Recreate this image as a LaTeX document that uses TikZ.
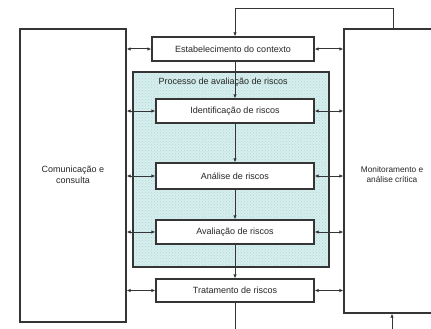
\documentclass[tikz,border=0pt]{standalone}
\usepackage{fontspec}
\setmainfont{Liberation Sans}
\usetikzlibrary{arrows.meta,patterns}
\definecolor{linegray}{HTML}{353535}
\definecolor{shade}{HTML}{D6EEEE}
\definecolor{hatch}{HTML}{B4D8D8}
\begin{document}
\begin{tikzpicture}[x=1pt,y=-1pt,
  every node/.style={font=\fontsize{9}{11}\selectfont, text=black!85},
  stagebox/.style={draw=linegray, line width=1.3pt, fill=white, minimum height=24pt, inner sep=0pt},
  sidebox/.style={draw=linegray, line width=1.3pt, fill=white, inner sep=0pt},
  flow/.style={draw=linegray, line width=1pt, -{Latex[length=4pt,width=3.5pt]}},
  link/.style={draw=linegray, line width=1pt, {Latex[length=4pt,width=3.5pt]}-{Latex[length=4pt,width=3.5pt]}}]
  \useasboundingbox (0,0) rectangle (431,329);
  \clip (0,0) rectangle (431,329);
  \fill[white] (0,0) rectangle (431,329);

  % side boxes
  \node[sidebox, minimum width=106pt, minimum height=293pt] (com) at (73,175.5) {};
  \node[align=center] (comlbl) at (73,175) {Comunicação e\\consulta};
  \node[sidebox, minimum width=96pt, minimum height=284pt] (mon) at (392,171) {};
  \node[align=center, font=\fontsize{8.3}{10}\selectfont] (monlbl) at (392,175) {Monitoramento e\\análise crítica};

  % shaded process area: base tint, dotted hatch, then solid border
  \node[draw=linegray, line width=1.3pt, preaction={fill=shade},
        pattern=crosshatch dots, pattern color=hatch,
        minimum width=196pt, minimum height=195pt, inner sep=0pt] (proc) at (231,169.5) {};

  % stages
  \node[stagebox, minimum width=162pt] (estab) at (233,49) {Estabelecimento do contexto};
  \node[stagebox, minimum width=158pt] (ident) at (235,111) {Identificação de riscos};
  \node[stagebox, minimum width=158pt, minimum height=26pt] (anal) at (235,176) {Análise de riscos};
  \node[stagebox, minimum width=158pt] (aval) at (235,232) {Avaliação de riscos};
  \node[stagebox, minimum width=158pt, minimum height=23pt] (trat) at (235,290.5) {Tratamento de riscos};

  % feedback loops
  \coordinate (toploop) at (235,9);
  \coordinate (topright) at (393,9);
  \coordinate (botleft) at (235,340);
  \coordinate (botright) at (392,340);
  \draw[linegray, line width=1pt] (mon.north -| topright) -- (topright) -- (toploop);
  \draw[flow] (toploop) -- (toploop |- estab.north);
  \draw[flow] (ident.north |- estab.south) -- (ident.north);
  \draw[flow] (ident) -- (anal);
  \draw[flow] (anal) -- (aval);
  \draw[flow] (aval) -- (trat);
  \draw[linegray, line width=1pt] (trat.south) -- (botleft);
  \draw[flow] (botright) -- (botright |- mon.south);

  \node[anchor=west] (proclbl) at (155,82) {Processo de avaliação de riscos};

  % communication and monitoring links
  \foreach \s in {estab,ident,anal,aval,trat}{
    \draw[link] (com.east |- \s.west) -- (\s.west);
    \draw[link] (\s.east) -- (mon.west |- \s.east);
  }
\end{tikzpicture}
\end{document}
